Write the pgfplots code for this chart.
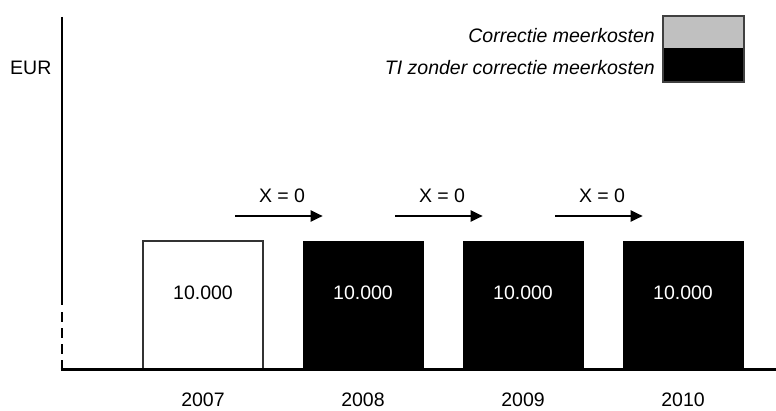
\documentclass[border=0pt]{standalone}
\usepackage{fontspec}
\setmainfont{Liberation Sans}
\usepackage{pgfplots}
\pgfplotsset{compat=1.18}
\usetikzlibrary{arrows.meta}
\definecolor{legendgray}{RGB}{192,192,192}
\begin{document}
\fontsize{19.5}{23}\selectfont
\begin{tikzpicture}[x=1pt,y=1pt]
\path[use as bounding box] (0,0) rectangle (776,410);
\begin{axis}[
  at={(62pt,41pt)}, anchor=south west,
  scale only axis, width=714pt, height=352pt,
  xmin=-0.88125, xmax=3.58125, ymin=0, ymax=27500,
  axis line style={draw=none},
  ytick=\empty,
  xtick={0,1,2,3},
  xticklabels={2007,2008,2009,2010},
  major tick length=0pt,
  xticklabel style={anchor=base, yshift=-37.5pt, inner sep=0pt},
  clip=false,
]
\addplot[ybar, bar width=0.75, bar shift=0pt, fill=white, draw=black!80, line width=1.5pt,
  nodes near coords, point meta=explicit symbolic,
  every node near coord/.append style={anchor=center, yshift=-51.5pt, text=black}]
  coordinates {(0,10000) [10.000]};
\addplot[ybar, bar width=0.75, bar shift=0pt, fill=black, draw=black, line width=1pt,
  nodes near coords, point meta=explicit symbolic,
  every node near coord/.append style={anchor=center, yshift=-51.5pt, text=white}]
  coordinates {(1,10000) [10.000] (2,10000) [10.000] (3,10000) [10.000]};
\draw[line width=2pt, -{Triangle[length=12pt,width=11pt]}] (axis cs:0.2,11953) -- (axis cs:0.748,11953);
\draw[line width=2pt, -{Triangle[length=12pt,width=11pt]}] (axis cs:1.2,11953) -- (axis cs:1.748,11953);
\draw[line width=2pt, -{Triangle[length=12pt,width=11pt]}] (axis cs:2.2,11953) -- (axis cs:2.748,11953);
\node[anchor=base, inner sep=0pt] at (axis cs:0.494,12969) {X = 0};
\node[anchor=base, inner sep=0pt] at (axis cs:1.494,12969) {X = 0};
\node[anchor=base, inner sep=0pt] at (axis cs:2.494,12969) {X = 0};
\end{axis}
% axis lines
\draw[line width=2.7pt] (62,393) -- (62,105);
\draw[line width=2.7pt, dash pattern=on 10pt off 6pt] (62,98) -- (62,41);
\draw[line width=3pt] (60.65,41) -- (776,41);
% y label
\node[anchor=base west, inner sep=0pt] at (10,335) {EUR};
% legend
\fill[legendgray] (663,394) rectangle (744,362);
\fill[black] (663,362) rectangle (744,328);
\draw[black!75, line width=1.5pt] (663,394) rectangle (744,328);
\node[anchor=base east, inner sep=0pt, font=\itshape] at (655,367) {Correctie meerkosten};
\node[anchor=base east, inner sep=0pt, font=\itshape] at (655,335) {TI zonder correctie meerkosten};
\end{tikzpicture}
\end{document}
